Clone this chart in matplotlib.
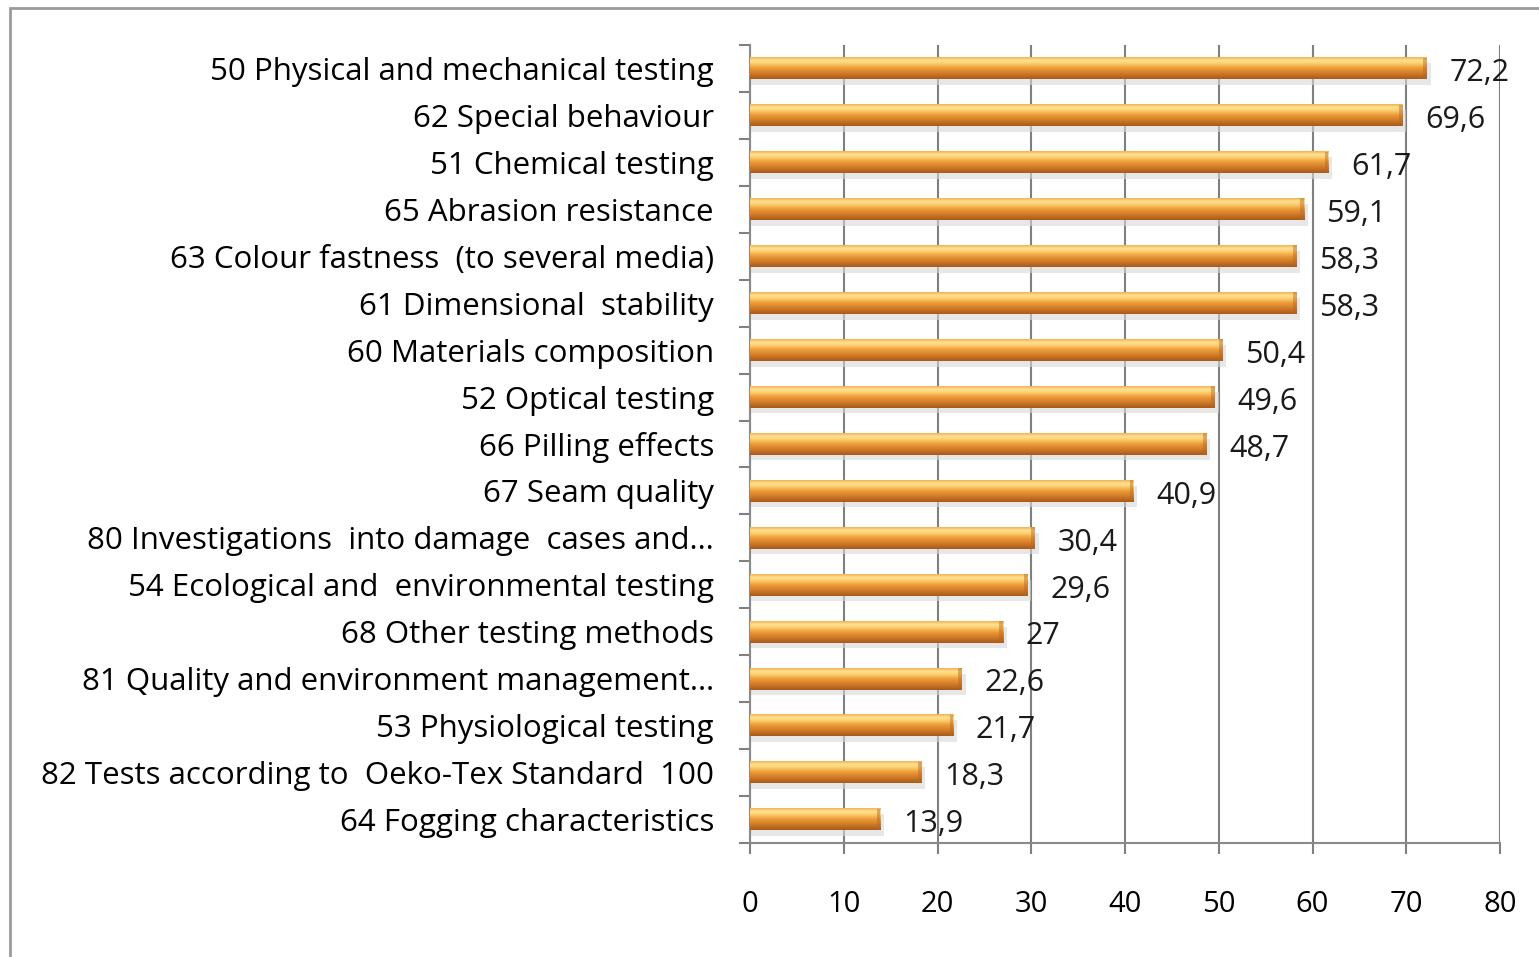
import numpy as np
import matplotlib.pyplot as plt
from matplotlib.colors import LinearSegmentedColormap
from matplotlib.patches import Rectangle

categories = [
    "50 Physical and mechanical testing",
    "62 Special behaviour",
    "51 Chemical testing",
    "65 Abrasion resistance",
    "63 Colour fastness  (to several media)",
    "61 Dimensional  stability",
    "60 Materials composition",
    "52 Optical testing",
    "66 Pilling effects",
    "67 Seam quality",
    "80 Investigations  into damage  cases and…",
    "54 Ecological and  environmental testing",
    "68 Other testing methods",
    "81 Quality and environment management…",
    "53 Physiological testing",
    "82 Tests according to  Oeko-Tex Standard  100",
    "64 Fogging characteristics",
]
values = [72.2, 69.6, 61.7, 59.1, 58.3, 58.3, 50.4, 49.6, 48.7, 40.9,
          30.4, 29.6, 27, 22.6, 21.7, 18.3, 13.9]
value_labels = ["72,2", "69,6", "61,7", "59,1", "58,3", "58,3", "50,4", "49,6",
                "48,7", "40,9", "30,4", "29,6", "27", "22,6", "21,7", "18,3", "13,9"]
xticks = [0, 10, 20, 30, 40, 50, 60, 70, 80]

plt.rcParams['font.family'] = ['Open Sans', 'DejaVu Sans']

fig = plt.figure(figsize=(15.39, 9.57), dpi=100)
ax = fig.add_axes([750 / 1539, 1 - 843 / 957, 750 / 1539, 798 / 957])

# outer frame (top and left edges visible)
top = 1 - 8 / 957
fig.patches.append(Rectangle((10 / 1539, -0.1), 1.2, top + 0.1,
                             transform=fig.transFigure, fill=False,
                             edgecolor='#9a9a9a', linewidth=2, zorder=0))

# cylinder-like gradient, first row = top of bar
cmap = LinearSegmentedColormap.from_list("cyl", [
    (0.0, "#a85a1a"), (0.25, "#d07a28"), (0.5, "#ec9a38"),
    (0.72, "#fdd070"), (0.85, "#ffe291"), (1.0, "#f2b257")])
grad = np.linspace(1, 0, 64).reshape(-1, 1)

n = len(categories)
ypos = np.arange(n)
h = 0.46
for y, v in zip(ypos, values):
    # soft shadow
    ax.add_patch(Rectangle((0, y - h / 2 + 0.12), v + 0.4, h, facecolor='#d8d8d8',
                           edgecolor='none', alpha=0.6, zorder=2))
    ax.imshow(grad, cmap=cmap, aspect='auto', origin='upper',
              extent=(0, v, y + h / 2, y - h / 2), zorder=3)
    ax.add_patch(Rectangle((v - 0.4, y - h / 2), 0.4, h, facecolor='#b8661e',
                           edgecolor='none', alpha=0.45, zorder=4))

for y, v, lab in zip(ypos, values, value_labels):
    ax.text(v + 2.4, y + 0.1, lab, va='center', ha='left', fontsize=22, color='#1a1a1a', zorder=5)

ax.set_xlim(0, 80)
ax.set_ylim(n - 0.5, -0.5)
ax.set_xticks(xticks)
ax.set_xticklabels([str(t) for t in xticks], fontsize=21)
ax.set_yticks(ypos)
ax.set_yticklabels(categories, fontsize=22.5)
ax.set_yticks(np.arange(n + 1) - 0.5, minor=True)
ax.tick_params(axis='y', which='major', length=0, pad=26)
ax.tick_params(axis='y', which='minor', length=8, width=1.5, color='#808080')
ax.tick_params(axis='x', length=8, width=1.5, color='#808080', pad=26)
ax.grid(axis='x', color='#7f7f7f', linewidth=1.5, zorder=1)
ax.set_axisbelow(True)
for s in ['top', 'right']:
    ax.spines[s].set_visible(False)
for s in ['left', 'bottom']:
    ax.spines[s].set_color('#8a8a8a')
    ax.spines[s].set_linewidth(1.5)

fig.savefig("out.png", dpi=100)
